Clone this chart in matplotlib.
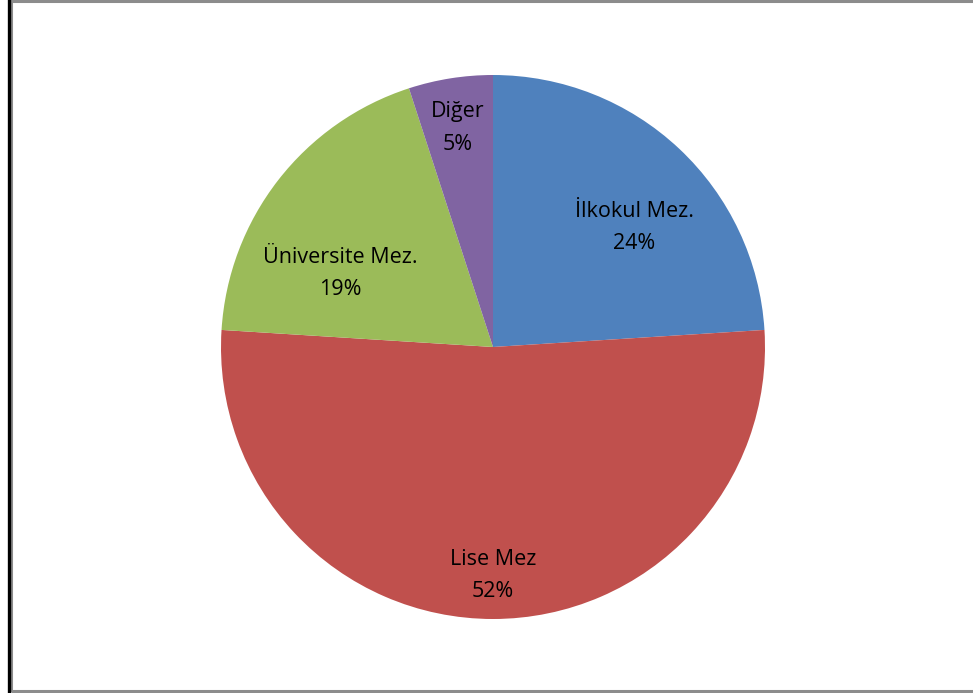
import matplotlib.pyplot as plt
from matplotlib.lines import Line2D
from matplotlib.patches import Rectangle

labels = ["İlkokul Mez.", "Lise Mez", "Üniversite Mez.", "Diğer"]
shares = [24, 52, 19, 5]
colors = ["#4F81BD", "#C0504D", "#9BBB59", "#8064A2"]

# label anchor points in pie units (radius = 1)
label_xy = [(0.52, 0.44), (0.0, -0.84), (-0.56, 0.27), (-0.13, 0.805)]

plt.rcParams['font.family'] = ['Open Sans', 'DejaVu Sans']

fig = plt.figure(figsize=(9.73, 6.93), dpi=100)

# outer frame
fig.add_artist(Rectangle((11 / 973, 2 / 693), 1.0, 690 / 693, transform=fig.transFigure,
                         fill=False, edgecolor="#8c8c8c", linewidth=2.2))
fig.add_artist(Line2D([8.5 / 973, 8.5 / 973], [0, 1], transform=fig.transFigure,
                      color="black", linewidth=2.4))

r_px = 272
cx, cy = 493, 693 - 347
ax = fig.add_axes([(cx - r_px) / 973, (cy - r_px) / 693, 2 * r_px / 973, 2 * r_px / 693])
ax.pie(shares, colors=colors, startangle=90, counterclock=False,
       wedgeprops=dict(edgecolor="none"))
ax.set_xlim(-1, 1)
ax.set_ylim(-1, 1)
ax.set_aspect("equal")
ax.axis("off")

for name, val, (x, y) in zip(labels, shares, label_xy):
    ax.text(x, y, f"{name}\n{val}%", ha="center", va="center", fontsize=15.5,
            linespacing=1.7, color="black")

fig.savefig("out.png", dpi=100)
